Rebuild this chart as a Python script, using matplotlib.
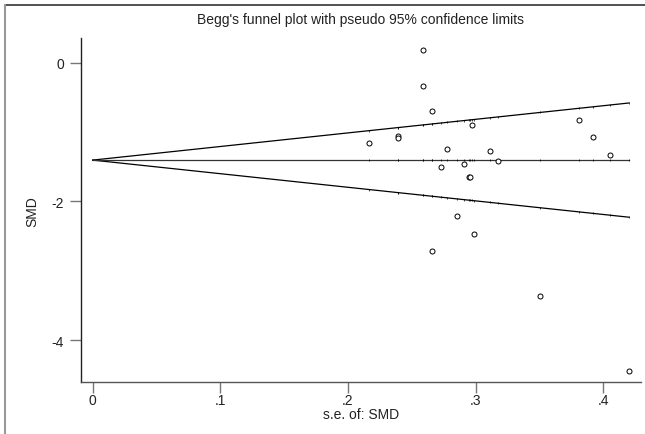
import numpy as np
import matplotlib.pyplot as plt
from matplotlib.lines import Line2D

plt.rcParams['font.family'] = ['Liberation Sans', 'DejaVu Sans']

# standard errors and SMD of the studies
se = [0.2585, 0.2589, 0.266, 0.2167, 0.239, 0.2395, 0.2778, 0.2728,
      0.266, 0.3505, 0.420, 0.2971, 0.2911, 0.2950, 0.2956, 0.3112,
      0.3172, 0.2856, 0.2984, 0.3812, 0.3917, 0.4055]
smd = [0.18, -0.334, -0.70, -1.156, -1.063, -1.083, -1.246, -1.506,
       -2.72, -3.37, -4.445, -0.896, -1.458, -1.645, -1.654, -1.280,
       -1.415, -2.216, -2.471, -0.829, -1.078, -1.329]
pooled = -1.405

xticks = [0, 0.1, 0.2, 0.3, 0.4]
xlabels = ["0", ".1", ".2", ".3", ".4"]
yticks = [0, -2, -4]
ylabels = ["0", "-2", "-4"]

fig = plt.figure(figsize=(6.45, 4.35), dpi=100)
ax = fig.add_axes([0.1251, 0.1189, 0.8687, 0.7911])

# pseudo 95% limits
se_line = np.array([0] + sorted(se))
up = pooled + 1.96 * se_line
lo = pooled - 1.96 * se_line
mid = np.full(len(se_line), pooled)
ax.plot(se_line, up, color='black', lw=0.9)
ax.plot(se_line, lo, color='black', lw=0.9)
ax.plot(se_line, mid, color='#333333', lw=0.9)
# small notches along the lines
for yy in (up, lo, mid):
    ax.plot(se_line[1:], yy[1:], ls='none', marker='|', ms=1.8, mew=0.5, color='black')

ax.plot(se, smd, ls='none', marker='o', ms=3.6, mfc='white', mec='black', mew=0.7)

ax.set_xlim(-0.0094, 0.4295)
ax.set_ylim(-4.608, 0.353)
ax.set_xticks(xticks)
ax.set_xticklabels(xlabels)
ax.set_yticks(yticks)
ax.set_yticklabels(ylabels)
ax.tick_params(axis='both', direction='out', length=8, width=1, color='#777777',
               labelsize=10, labelcolor='#222222')
ax.tick_params(axis='x', pad=0)
ax.tick_params(axis='y', pad=4)

for s in ['top', 'right']:
    ax.spines[s].set_visible(False)
ax.spines['left'].set_color('#222222')
ax.spines['bottom'].set_color('#555555')
ax.spines['left'].set_linewidth(1)
ax.spines['bottom'].set_linewidth(1)

ax.set_xlabel("s.e. of: SMD", fontsize=10, color='#222222', labelpad=0)
ax.set_ylabel("SMD", fontsize=10, color='#222222', labelpad=9)
ax.set_title("Begg's funnel plot with pseudo 95% confidence limits",
             fontsize=10, color='#222222', pad=11)

# outer frame (top and left)
fig.add_artist(Line2D([5 / 645, 1], [1 - 6 / 435, 1 - 6 / 435],
                      transform=fig.transFigure, color='#333333', lw=1.2))
fig.add_artist(Line2D([5 / 645, 5 / 645], [0, 1 - 6 / 435],
                      transform=fig.transFigure, color='#999999', lw=1.5))

fig.savefig("out.png", dpi=100)
